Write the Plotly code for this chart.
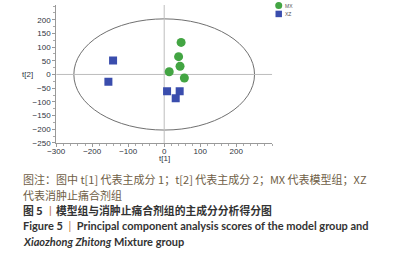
import plotly.graph_objects as go

# Data
mx_t1 = [47, 40, 44, 14, 56]
mx_t2 = [117, 65, 30, 10, -13]
xz_t1 = [-142, -155, 8, 43, 32]
xz_t2 = [51, -27, -61, -61, -87]
x_ticks = [-300, -200, -100, 0, 100, 200]
y_ticks = [200, 150, 100, 50, 0, -50, -100, -150, -200, -250]
ellipse_a = 251
ellipse_b = 203

GREEN = "#43a543"
BLUE = "#3a4dad"
W, H = 396, 263
fig = go.Figure()
fig.add_trace(go.Scatter(x=mx_t1, y=mx_t2, mode="markers", name="MX", showlegend=False,
                         marker=dict(symbol="circle", size=9, color=GREEN)))
fig.add_trace(go.Scatter(x=xz_t1, y=xz_t2, mode="markers", name="XZ", showlegend=False,
                         marker=dict(symbol="square", size=8, color=BLUE)))

# Hotelling ellipse and zero lines
fig.add_shape(type="circle", xref="x", yref="y", x0=-ellipse_a, x1=ellipse_a,
              y0=-ellipse_b, y1=ellipse_b, line=dict(color="#707070", width=1), layer="below")
fig.add_shape(type="line", xref="x", yref="y", x0=-300, x1=300, y0=0, y1=0,
              line=dict(color="#bdbdbd", width=1), layer="below")
fig.add_shape(type="line", xref="x", yref="y", x0=0, x1=0, y0=-250, y1=254,
              line=dict(color="#bdbdbd", width=1), layer="below")

axis_font = dict(family="Liberation Sans, Arial", size=8, color="#2f3440")
fig.update_xaxes(domain=[48.3 / W, 269.3 / W], range=[-300, 300], tickvals=x_ticks,
                 showgrid=False, zeroline=False, showline=True, linecolor="#999999",
                 linewidth=1, ticks="outside", ticklen=3, tickcolor="#999999",
                 tickfont=axis_font, ticklabelstandoff=-3,
                 minor=dict(dtick=20, ticks="outside", ticklen=2, tickcolor="#aaaaaa"))
fig.update_yaxes(domain=[1 - 145.7 / H, 1 - 5 / H], range=[-250, 254], tickvals=y_ticks,
                 showgrid=False, zeroline=False, showline=True, linecolor="#999999",
                 linewidth=1, ticks="outside", ticklen=3, tickcolor="#999999",
                 tickfont=axis_font,
                 minor=dict(dtick=25, ticks="outside", ticklen=2, tickcolor="#aaaaaa"))

# axis titles
fig.add_annotation(text="t[1]", xref="paper", yref="paper", x=159 / W, y=1 - 161.5 / H,
                   xanchor="center", yanchor="middle", showarrow=False, borderpad=0,
                   font=axis_font)
fig.add_annotation(text="t[2]", xref="paper", yref="paper", x=19 / W, y=1 - 76 / H,
                   xanchor="center", yanchor="middle", showarrow=False, font=axis_font)

# legend (key symbols as paper shapes, names as text)
leg_font = dict(family="Liberation Sans, Arial", size=5, color="#555555")
cx, r = 276, 3.6
fig.add_shape(type="circle", xref="paper", yref="paper", x0=(cx - r) / W, x1=(cx + r) / W,
              y0=1 - (5.7 + r) / H, y1=1 - (5.7 - r) / H, fillcolor=GREEN, line=dict(width=0))
fig.add_shape(type="rect", xref="paper", yref="paper", x0=(cx - 3.3) / W, x1=(cx + 3.3) / W,
              y0=1 - (14.2 + 3.3) / H, y1=1 - (14.2 - 3.3) / H, fillcolor=BLUE, line=dict(width=0))
for name, py in [("MX", 5.7), ("XZ", 14.2)]:
    fig.add_annotation(text=name, xref="paper", yref="paper", x=281 / W, y=1 - py / H,
                       xanchor="left", yanchor="middle", showarrow=False, borderpad=0,
                       font=leg_font)

cap_cjk = "Noto Sans CJK SC"
x0 = 13 / W
annots = [
    ("图注：图中 t[1] 代表主成分 1；t[2] 代表主成分 2；MX 代表模型组；XZ", 182.5, cap_cjk, "#6e5d45", 11),
    ("代表消肿止痛合剂组", 199, cap_cjk, "#6e5d45", 11),
    ("<b>图 5 </b><span style='color:#c07a3a'>丨</span><b>模型组与消肿止痛合剂组的主成分分析得分图</b>", 214, cap_cjk, "#333333", 10.8),
    ("<b>Figure 5 </b> <span style='color:#c07a3a'>|</span>  <b>Principal component analysis scores of the model group and</b>", 230, "Lato", "#333333", 11),
    ("<b><i>Xiaozhong Zhitong</i> Mixture group</b>", 246.5, "Lato", "#333333", 11),
]
for text, py, fam, col, fs in annots:
    fig.add_annotation(text=text, xref="paper", yref="paper", x=x0, y=1 - py / H,
                       xanchor="left", yanchor="middle", showarrow=False, borderpad=0,
                       font=dict(family=fam, size=fs, color=col))

fig.update_layout(width=W, height=H, margin=dict(l=0, r=0, t=0, b=0),
                  plot_bgcolor="white", paper_bgcolor="white", showlegend=False)
fig.write_html("out.html", config={"displayModeBar": False},
               post_script="document.body.style.margin='0';")
